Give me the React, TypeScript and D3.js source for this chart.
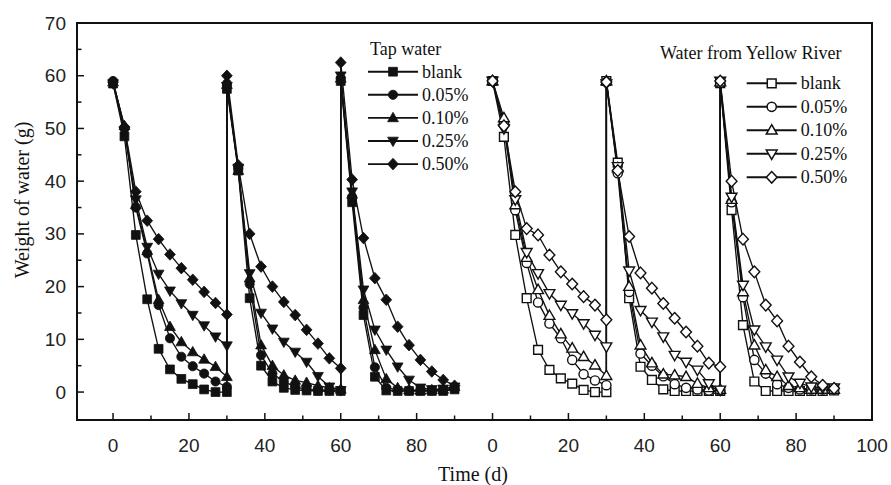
import React from 'react';
import * as d3 from 'd3';

// Time axis of each run (d): three fill/evaporation cycles, refilled at day 30 and 60
const days = [0, 3, 6, 9, 12, 15, 18, 21, 24, 27, 30, 30, 33, 36, 39, 42, 45, 48, 51, 54, 57, 60, 60, 63, 66, 69, 72, 75, 78, 81, 84, 87, 90];

const seriesLabels = ['blank', '0.05%', '0.10%', '0.25%', '0.50%'];
const markerTypes = ['square', 'circle', 'triangle', 'triangleDown', 'diamond'];

// Tap water (g)
const tapBlank = [58.5, 48.5, 29.8, 17.6, 8.2, 4.3, 2.5, 1.5, 0.5, 0, 0, 57.5, 42, 17.8, 5, 2, 0.8, 0.4, 0.3, 0.2, 0.2, 0.2, 59, 36, 14.6, 2.9, 0.3, 0.2, 0.2, 0.2, 0.2, 0.2, 0.5];
const tap005 = [59, 50, 35, 26.3, 16.5, 10.2, 6.7, 4.9, 3.5, 2, 1, 58.5, 42.5, 20.5, 7, 3.5, 2, 1, 0.5, 0.3, 0.3, 0.3, 59.5, 37, 16, 4.7, 0.8, 0.4, 0.3, 0.3, 0.3, 0.4, 0.7];
const tap010 = [58.8, 50.5, 35.5, 26.8, 17.5, 12.4, 9.5, 7.6, 6.2, 4.8, 2.9, 58.3, 42, 21.6, 8.9, 5, 3.2, 2.2, 1.8, 1.2, 0.8, 0.5, 59.5, 37.5, 17.5, 8, 2.5, 0.8, 0.4, 0.3, 0.4, 0.5, 1];
const tap025 = [58.5, 49.5, 36.5, 27.5, 22.4, 19.2, 16.8, 14.6, 12.6, 10.5, 8.8, 58, 42.5, 22.5, 15, 12, 9.5, 7.6, 5.7, 3, 1, 0.3, 60, 38, 19.4, 11.8, 8, 4.8, 2.3, 0.8, 0.5, 0.6, 1];
const tap050 = [58.8, 50.3, 38, 32.5, 29, 26.1, 23.5, 21.3, 19, 16.9, 14.7, 60, 43, 30, 23.8, 20, 17.1, 14.6, 11.8, 9.2, 6.4, 4.5, 62.5, 40.3, 29.2, 21.6, 17.5, 12.4, 8.9, 6.1, 3.9, 2.3, 1.2];

// Water from Yellow River (g)
const riverBlank = [59, 48.4, 29.8, 17.8, 8, 4.2, 2.6, 1.6, 0.4, 0, 0, 59, 43.5, 17.8, 4.8, 2.3, 0.5, 0.2, 0.2, 0.2, 0.2, 0.2, 58.6, 34.5, 12.7, 2, 0.2, 0.2, 0.2, 0.2, 0.2, 0.2, 0.3];
const river005 = [59, 51, 34.5, 24.5, 17, 13, 10.2, 6.1, 3.4, 2.2, 1.3, 58.8, 41.5, 19, 7.3, 5, 3, 1.5, 0.8, 0.5, 0.3, 0.3, 58.6, 36, 18, 6.1, 3.5, 1.5, 0.8, 0.5, 0.5, 0.5, 0.5];
const river010 = [59, 52, 35.5, 25.5, 19.4, 14.5, 11, 8.3, 6.7, 5.1, 3.1, 59, 42.5, 20, 8.9, 5.5, 3.4, 3.2, 2.9, 1.6, 0.8, 0.5, 58.8, 36.5, 19, 8.9, 4.2, 2.9, 1.2, 0.8, 0.5, 0.5, 0.5];
const river025 = [59, 50, 36.5, 26.5, 22.5, 18.7, 16.5, 14.9, 13, 10.8, 8.6, 58.5, 42.8, 23, 15.5, 13.3, 10.5, 7, 5.7, 4.2, 1.6, 0.4, 59, 37, 20.3, 11.8, 8.6, 6.1, 2.9, 1.7, 1, 0.8, 0.8];
const river050 = [59, 50.5, 38, 31, 29.8, 26, 22.8, 20.5, 18.1, 16.5, 13.7, 58.8, 42, 29.5, 22.6, 19.7, 16.8, 14, 11.4, 8.7, 5.5, 4.8, 59, 40, 29, 22.8, 16.5, 13.5, 8.7, 5.7, 2.9, 1.3, 0.7];

const tapSeries = [tapBlank, tap005, tap010, tap025, tap050];
const riverSeries = [riverBlank, river005, river010, river025, river050];
const riverOffset = 100; // second panel placed 100 d further on the shared axis

const xMajorTicks = [0, 20, 40, 60, 80, 100, 120, 140, 160, 180, 200];
const xTickLabels = ['0', '20', '40', '60', '80', '0', '20', '40', '60', '80', '100'];
const xMinorTicks = [10, 30, 50, 70, 90, 110, 130, 150, 170, 190];
const yMajorTicks = [0, 10, 20, 30, 40, 50, 60, 70];
const yMinorTicks = [5, 15, 25, 35, 45, 55, 65];

const W = 891;
const H = 485;
const L = 77, R = 872, T = 23, B = 420;

function markerPath(type: string): string {
  switch (type) {
    case 'square':
      return 'M-4.4,-4.4h8.8v8.8h-8.8z';
    case 'circle': {
      const r = 4.6;
      return `M${r},0A${r},${r} 0 1 1 ${-r},0A${r},${r} 0 1 1 ${r},0Z`;
    }
    case 'triangle':
      return 'M0,-5.6L5.4,3.8L-5.4,3.8Z';
    case 'triangleDown':
      return 'M0,5.6L5.4,-3.8L-5.4,-3.8Z';
    case 'diamond':
    default:
      return 'M0,-5.8L5.4,0L0,5.8L-5.4,0Z';
  }
}

const serif = '"Liberation Serif", "Times New Roman", Times, serif';
const sans = '"Liberation Sans", Arial, Helvetica, sans-serif';

export default function App() {
  const x = d3.scaleLinear().domain([-9.5, 200]).range([L, R]);
  const y = d3.scaleLinear().domain([-5.3, 70]).range([B, T]);

  const line = d3
    .line<[number, number]>()
    .x((d) => x(d[0]))
    .y((d) => y(d[1]));

  const buildPts = (vals: number[], offset: number): [number, number][] =>
    vals.map((v, i) => [days[i] + offset, v]);

  const renderGroup = (series: number[][], offset: number, open: boolean, key: string) => (
    <g key={key}>
      {series.map((vals, si) => (
        <path
          key={`l${si}`}
          d={line(buildPts(vals, offset)) || ''}
          fill="none"
          stroke="#111"
          strokeWidth={1.35}
        />
      ))}
      {series.map((vals, si) => (
        <g key={`m${si}`}>
          {buildPts(vals, offset).map((p, i) => (
            <path
              key={i}
              d={markerPath(markerTypes[si])}
              transform={`translate(${x(p[0])},${y(p[1])})`}
              fill={open ? '#fff' : '#111'}
              stroke="#111"
              strokeWidth={open ? 1.4 : 0.8}
            />
          ))}
        </g>
      ))}
    </g>
  );

  const legend = (
    title: string,
    titleX: number,
    titleY: number,
    lineX0: number,
    lineX1: number,
    rowY0: number,
    rowStep: number,
    open: boolean
  ) => (
    <g>
      <text x={titleX} y={titleY} fontFamily={serif} fontSize={18} fill="#111">
        {title}
      </text>
      {seriesLabels.map((lab, i) => {
        const yy = rowY0 + i * rowStep;
        const mx = (lineX0 + lineX1) / 2;
        return (
          <g key={lab}>
            <line x1={lineX0} x2={lineX1} y1={yy} y2={yy} stroke="#111" strokeWidth={1.9} />
            <path
              d={markerPath(markerTypes[i])}
              transform={`translate(${mx},${yy})`}
              fill={open ? '#fff' : '#111'}
              stroke="#111"
              strokeWidth={open ? 1.5 : 0.8}
            />
            <text x={lineX1 + 4} y={yy + 6} fontFamily={serif} fontSize={18} fill="#111">
              {lab}
            </text>
          </g>
        );
      })}
    </g>
  );

  return (
    <svg
      width={W}
      height={H}
      style={{ position: 'absolute', left: 0, top: 0, background: '#fff' }}
    >
      <rect x={0} y={0} width={W} height={H} fill="#fff" />
      {/* data */}
      {renderGroup(tapSeries, 0, false, 'tap')}
      {renderGroup(riverSeries, riverOffset, true, 'river')}

      {/* frame */}
      <rect x={L} y={T} width={R - L} height={B - T} fill="none" stroke="#111" strokeWidth={2} />

      {/* x ticks */}
      {xMajorTicks.map((t, i) => (
        <g key={`xt${t}`}>
          <line x1={x(t)} x2={x(t)} y1={B} y2={B - 7} stroke="#111" strokeWidth={1.5} />
          <text
            x={x(t)}
            y={452}
            textAnchor="middle"
            fontFamily={sans}
            fontSize={19}
            fill="#222"
          >
            {xTickLabels[i]}
          </text>
        </g>
      ))}
      {xMinorTicks.map((t) => (
        <line key={`xm${t}`} x1={x(t)} x2={x(t)} y1={B} y2={B - 4.5} stroke="#111" strokeWidth={1.5} />
      ))}

      {/* y ticks */}
      {yMajorTicks.map((t) => (
        <g key={`yt${t}`}>
          <line x1={L} x2={L + 7} y1={y(t)} y2={y(t)} stroke="#111" strokeWidth={1.5} />
          <text
            x={L - 11}
            y={y(t) + 6.6}
            textAnchor="end"
            fontFamily={sans}
            fontSize={19}
            fill="#222"
          >
            {t}
          </text>
        </g>
      ))}
      {yMinorTicks.map((t) => (
        <line key={`ym${t}`} x1={L} x2={L + 4.5} y1={y(t)} y2={y(t)} stroke="#111" strokeWidth={1.5} />
      ))}

      {/* axis titles */}
      <text x={473} y={481} textAnchor="middle" fontFamily={serif} fontSize={20} fill="#111">
        Time (d)
      </text>
      <text
        transform={`translate(29,200) rotate(-90)`}
        textAnchor="middle"
        fontFamily={serif}
        fontSize={20}
        fill="#111"
      >
        Weight of water (g)
      </text>

      {/* legends */}
      {legend('Tap water', 370, 55, 368, 418, 71.7, 23.1, false)}
      {legend('Water from Yellow River', 660, 59, 746.7, 796.7, 83.3, 23.5, true)}
    </svg>
  );
}
